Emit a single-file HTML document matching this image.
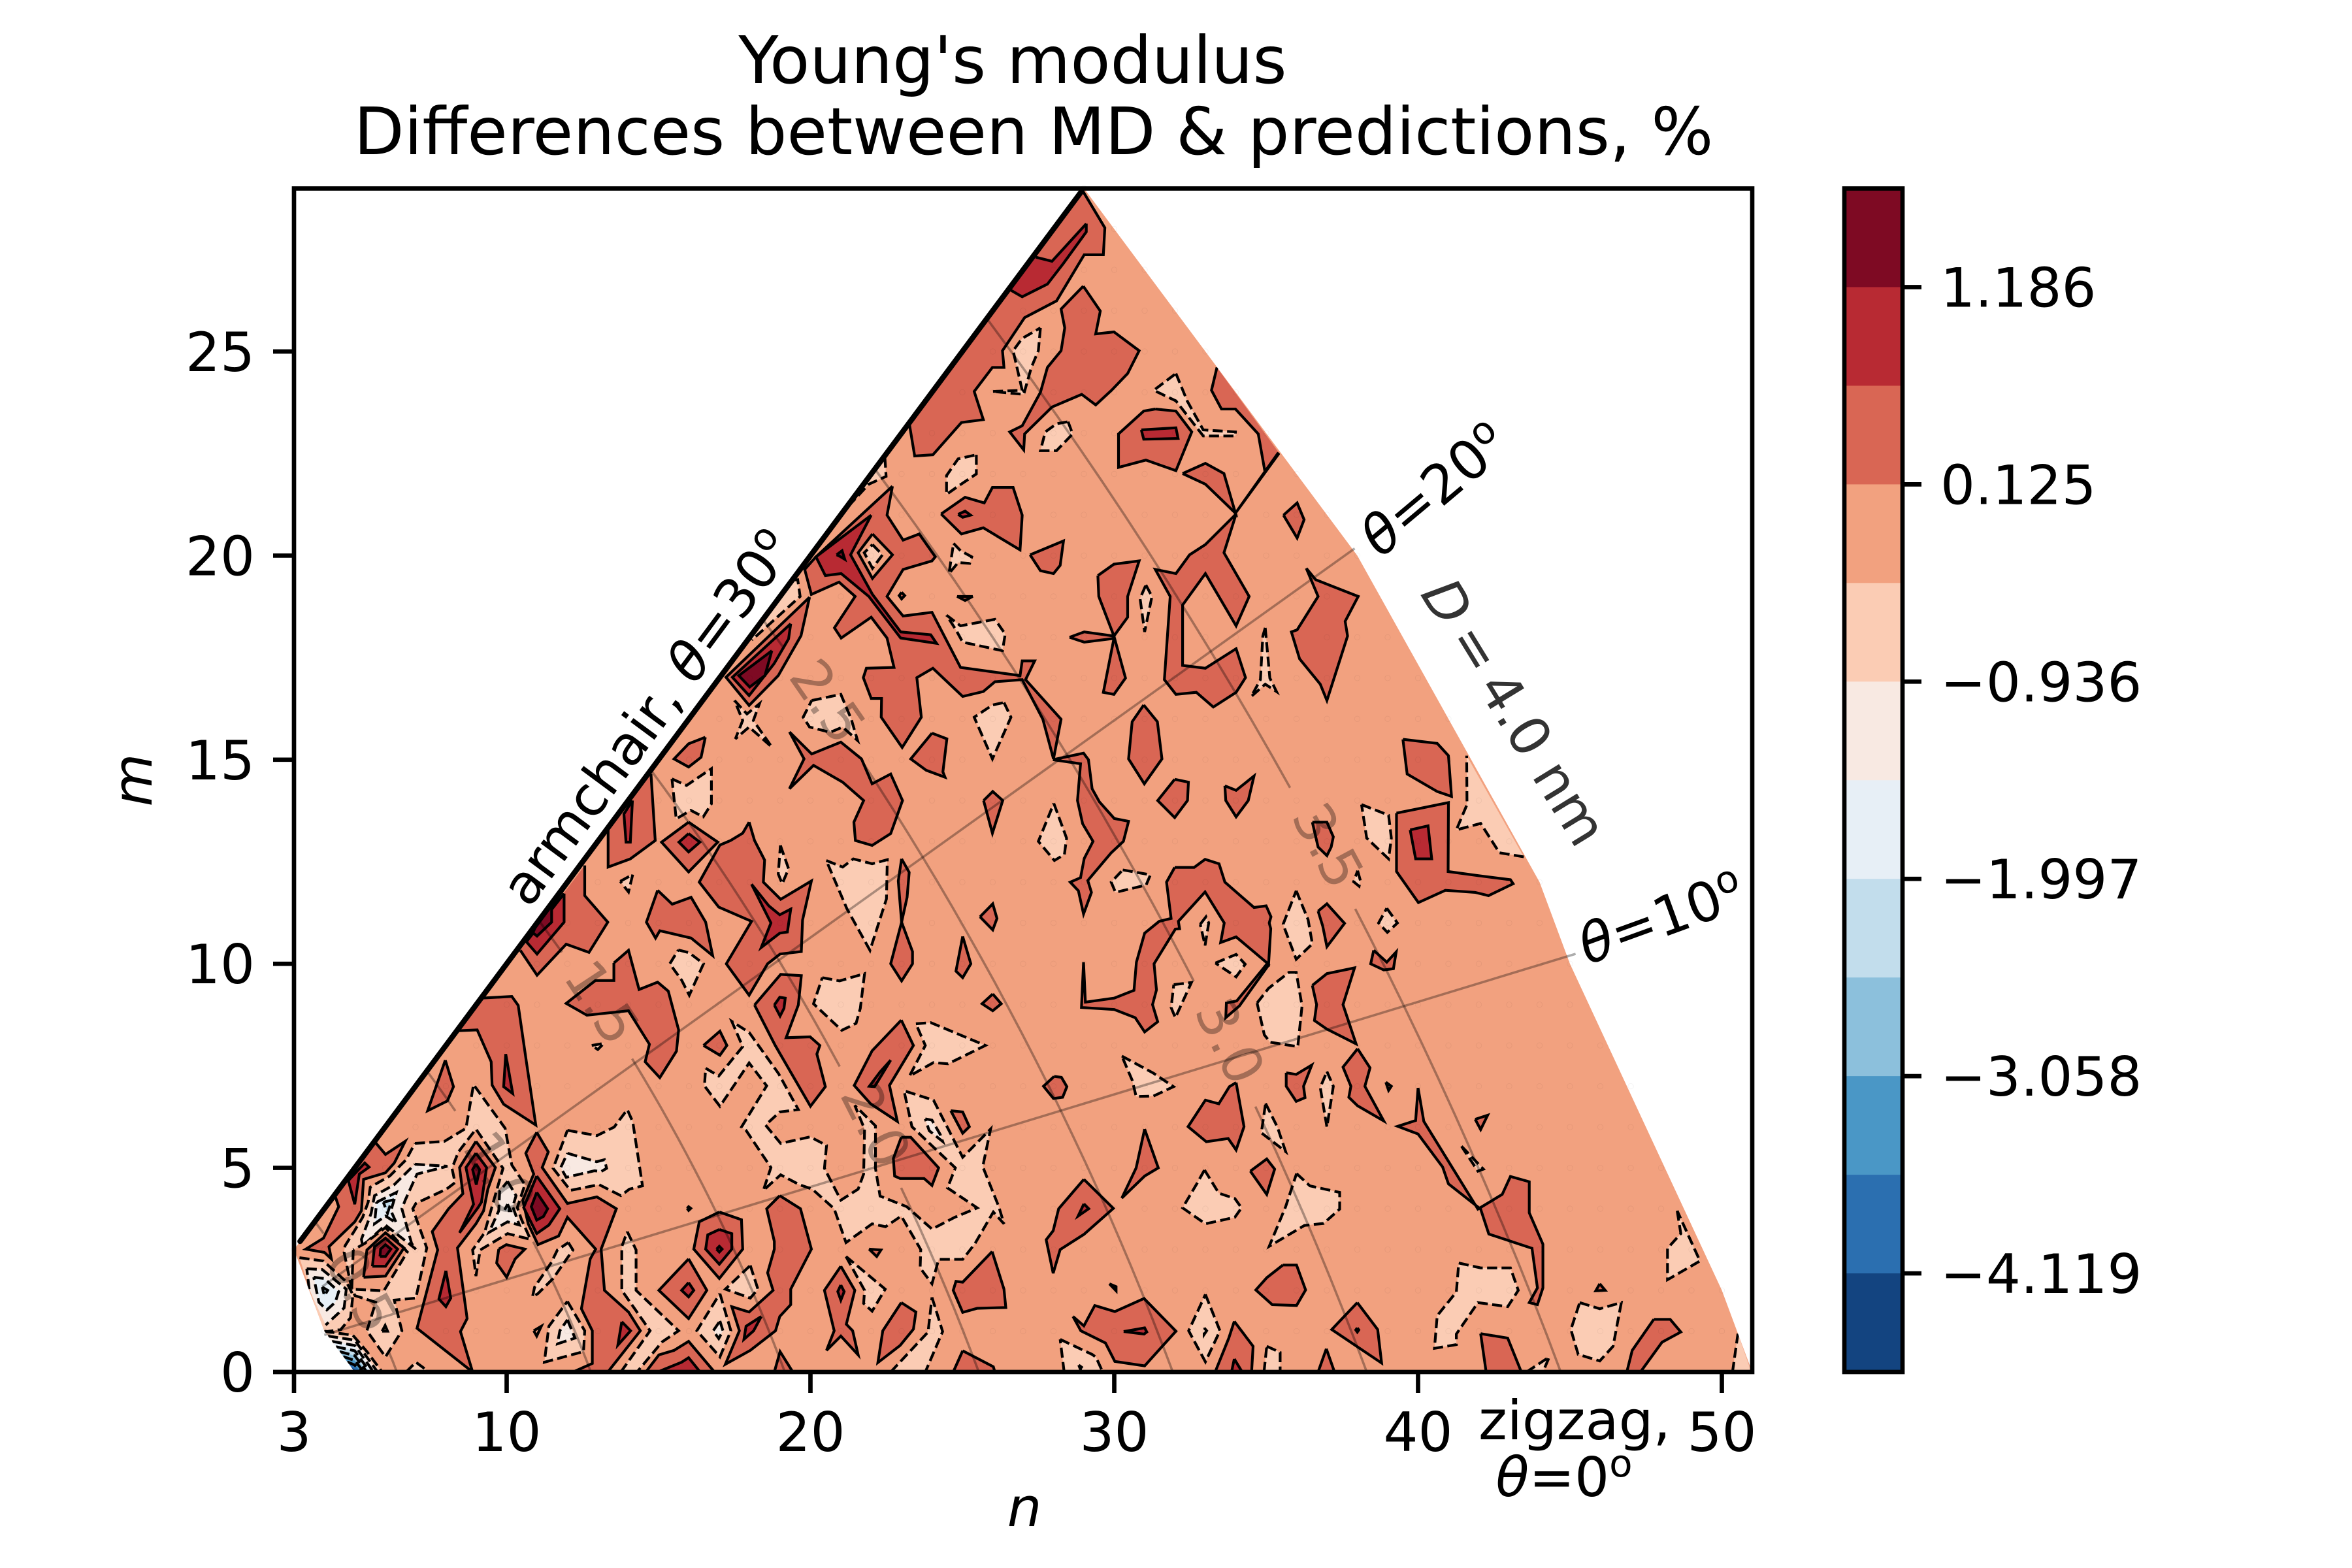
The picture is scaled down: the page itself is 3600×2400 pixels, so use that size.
<!DOCTYPE html>
<html><head><meta charset="utf-8"><title>Young's modulus differences</title>
<style>
html,body{margin:0;padding:0;background:#fff}
svg{display:block}
text{font-family:"DejaVu Sans","Liberation Sans",sans-serif;font-size:83.33px;fill:#000}
</style></head><body>
<svg id="chart" xmlns="http://www.w3.org/2000/svg" width="3600" height="2400" viewBox="0 0 3600 2400">
<defs><clipPath id="wedge-clip"><polygon id="wedge-clip-poly" points=""/></clipPath>
<clipPath id="axes-clip"><rect x="450" y="288" width="2232" height="1812"/></clipPath></defs>
<g id="plot"></g>
<rect x="450" y="288.5" width="2232" height="1811.5" fill="none" stroke="#000" stroke-width="6.67"/>
<g id="axes"></g>
<g id="cbar"></g>
<text x="1550" y="127" text-anchor="middle" style="font-size:100px">Young's modulus</text>
<text x="1582" y="236" text-anchor="middle" style="font-size:100px">Differences between MD &amp; predictions, %</text>
<text x="1568" y="2336" text-anchor="middle" font-style="italic">n</text>
<text transform="translate(232,1194) rotate(-90)" text-anchor="middle" font-style="italic">m</text>
<text transform="translate(991,1098) rotate(-53.5)" text-anchor="middle" dy="29">armchair, <tspan font-style="italic">θ</tspan>=30<tspan dy="-30" style="font-size:58px">o</tspan></text>
<text transform="translate(2195,749) rotate(-40)" text-anchor="middle" dy="29"><tspan font-style="italic">θ</tspan>=20<tspan dy="-30" style="font-size:58px">o</tspan></text>
<text transform="translate(2543,1405) rotate(-20)" text-anchor="middle" dy="29"><tspan font-style="italic">θ</tspan>=10<tspan dy="-30" style="font-size:58px">o</tspan></text>
<text transform="translate(2318,1090) rotate(58.5)" text-anchor="middle" dy="29" style="fill:#333"><tspan font-style="italic">D</tspan><tspan dx="-10"> = </tspan><tspan dx="-10">4.0 nm</tspan></text>
<text x="2410" y="2203" text-anchor="middle">zigzag,</text>
<text x="2394" y="2290" text-anchor="middle"><tspan font-style="italic">θ</tspan>=0<tspan dy="-30" style="font-size:58px">o</tspan></text>
</svg>
<script>
const xTicks=[3,10,20,30,40,50];
const yTicks=[0,5,10,15,20,25];
const cbarColors=["#7e0a23","#b82a33","#d96654","#f2a17f","#fbccb4","#f8e9e2","#e7eff6","#c2ddec","#8cc0dc","#4a97c6","#2b6fb0","#134480"];
const cbarLabels=["1.186","0.125","−0.936","−1.997","−3.058","−4.119"];
const hullPoints=[3,3,29,29,38,20,44,12,45,10,50,2,51,0,5,0,4,1];
const thetaDeg=[10,20];
const thetaDiamStart=[0.354,0.414];
const thetaDiamEnd=[4.0,4.0];
const diameters=[0.5,1.0,1.5,2.0,2.5,3.0,3.5];
const diameterLabels=["0.5","1.0","1.5","2.0","2.5","3.0","3.5"];
const diameterGaps=[[27.4,3.8],[25.7,12.5],[27.7,20.3],[14.7,8.8],[28.8,23.9],[12.5,8.45],[16.1,12.7]];

const lo1Regions=[
[6.98,5.6,7.95,5.65,8.66,5.97,8.91,7.04,9.95,5.97,10.17,5.07,10.6,4.59,10.35,4.03,10.49,3.73,10.78,3.25,10.03,3.39,9.13,2.99,8.99,2.35,8.88,2.99,9.27,3.41,9.56,4.16,9.88,4.99,8.99,5.95,8.41,5.39,8.2,4.99,8.3,4.64,8.02,4.48,7.01,4.13,6.91,4,7.37,3.04,7.01,1.81,6.3,1.76,6.55,1.01,6.01,0.37,5.4,1.01,5.69,1.71,5.01,1.87,4.9,2.03,4.65,2.93,4.68,3.09,5,3.47,5.26,3.79,5.44,4.16,5.51,4.53,6.15,4.8,6.69,5.2],
[3.18,2.8,3.97,2.72,4.72,2.21,4.94,1.89,4.86,1.33,4.54,1.04,3.97,0.98],
[4,1,4.94,0.9,5.4,0.5,5.9,0,4.97,0],
[6.69,0,7.01,0.24,7.45,0],
[12,5.92,12.97,5.79,13.54,6,13.97,6.43,14.15,6.13,14.47,4.56,14.04,4.48,13.76,4.32,13.04,4.59,12.1,4.45,11.53,4.99],
[12.03,3.17,12.18,2.99,11.53,2.29,11.03,1.92,10.85,1.84,10.92,2.08,11.46,2.67,11.67,2.99],
[12,1.73,12.57,1.01,12.53,0.5,11.24,0.24,11.39,1.12],
[13.97,3.44,14.26,2.99,14.26,2,15.66,1.01,15.12,0.74,14.29,0,13.76,0,14.72,1.01,13.79,2,13.79,3.07],
[17.02,1.92,17.38,1.01,17.02,0.37,16.26,1.01],
[18.02,2.61,18.27,2.03,18.02,1.81,17.2,2.03],
[16.55,7.44,16.98,7.25,17.77,7.97,17.41,8.59,17.98,8.32,18.95,7.31,19.6,6.43,18.99,6.37,18.52,6.05,19.02,5.6,19.99,5.76,20.53,5.55,20.46,4.99,21,4.21,21.57,4.48,21.75,4.85,21.78,5.95,21.46,6.53,22.14,6.03,22.14,4.99,22.29,4.31,23.17,4.05,24,3.5,24.75,3.79,25.49,4.02,24.51,4.51,24.77,5,23.34,6.01,23.08,6.89,24.05,6.66,25.01,5.26,25.93,5.95,25.67,5.03,26.2,4.05,26.37,3.63,26.02,3.92,25.41,3.14,25.01,2.76,24.22,2.76,24,2.16,23.61,2.55,23.63,3,22.99,3.82,22.47,3.56,22.03,3.63,21.17,3.17,20.78,4,20.06,4.48,19.63,4.59,19.02,4.83,18.45,4.45,18.7,5.01,17.88,5.92,17.73,6,18.56,7.01,17.98,7.57,17.02,6.51,16.51,7.01],
[23.47,8.53,23.96,8.56,25.76,8,24.53,7.55,24.05,7.58,23.26,7.25,23.78,8],
[21.17,2.83,22.46,2.03,22.03,1.49,21.75,1.68,21.78,2],
[24,1.83,24.35,0.99,23.78,0,22.64,0,23.87,0.98],
[28.22,0.8,29.27,0.43,29.4,0.36,29.62,0,28.35,0],
[33,1.9,33.48,1.01,33,0.25,32.45,1.01],
[32.97,4.95,33.44,4.38,33.97,4.25,34.19,4.02,33.97,3.79,33,3.63,32.25,4.02,32.74,4.64],
[30.25,7.74,31.29,7.32,31.95,6.99,31.29,6.76,30.72,6.75,30.59,7.15],
[36,4.86,36.44,4.56,37.42,4.4,37.42,3.99,36.89,3.64,36.26,3.59,35.1,3.08,35.64,4.05],
[35.02,0.63,35.46,0.48,35.46,0,34.93,0],
[41.34,2.67,42.06,2.55,43.04,2.55,43.3,2,42.95,1.6,41.97,1.7,41.26,0.93,41.26,0.67,40.54,0.58,40.63,1.38,41.26,1.96],
[45.32,1.7,45.98,1.55,46.69,1.7,46.42,0.63,45.98,0.27,45.27,0.43,45.03,1.04],
[48.53,3.95,48.65,3.39,48.21,3.03,48.21,2.26,49.28,2.72],
[50.53,0.94,50.97,0,50.35,0],
[43.57,0,44.32,0.37,44.11,0],
[41.43,5.53,42.15,4.97,41.97,4.92],
[38.14,13.9,39.03,13.64,39.12,13.08,39.03,12.57,38.31,13.08],
[41.6,15.1,43.48,12.62,42.68,12.72,42.06,13.44,41.26,13.28,41.61,13.9],
[35.99,11.79,36.38,11.08,36.52,10.49,35.99,10.11,35.61,10.86,35.56,10.97],
[34.7,9.04,35.08,9.4,35.75,9.79,35.99,9.79,36.18,8.97,36.04,7.97,35.13,8.08,34.94,8.26],
[31.96,9.49,32.54,9.54,32.01,8.68,31.87,8.93],
[33.33,10.02,34.01,10.23,34.31,9.99,34.01,9.68],
[32.83,10.97,33.02,11.15,33.11,11,32.99,10.45],
[30.28,12.3,31.19,12.18,31.05,11.93,30.04,11.75,29.9,12],
[28.01,13.93,28.43,13.08,28.36,12.68,28.03,12.53,27.5,13],
[34.98,6.58,35.37,6,35.64,5.4,34.84,5.86],
[37,7.36,37.21,7,37,6,36.78,6.97],
[38.97,11.36,39.32,11,38.99,10.77,38.7,11],
[38.01,12.28,38.1,12.04,38.06,11.9,37.88,12.01],
[28.18,28.08,28.63,28.23,28.1,27.67,27.73,27.62],
[26.07,26,25.95,25.4,25.1,24.3,24.5,24.4],
[27.57,25.58,27.5,25.02,27.27,24.61,27.02,23.95,25.99,24.02,26.97,24.05,26.67,25.02,26.97,25.32],
[28.48,23.28,28.63,22.98,28.1,22.57,27.57,22.57,27.73,23.03,28.1,23.23],
[25.46,22.47,25.46,22,24.86,21.7,24.48,21.5,24.48,21.96,24.86,22.37],
[32.03,24.46,32.4,23.79,32.93,23.08,33.99,23.03,33.99,22.93,32.93,22.93,32.03,23.79,31.3,24.05],
[34.97,18.23,35.12,17,35.34,16.67,34.97,16.85,34.51,16.55,34.81,16.96,34.89,18.03],
[31.04,19.28,31.24,19,31,18.13,30.85,18.95],
[24.71,20.3,24.94,20.12,25.31,19.97,25.24,19.81,24.86,19.83,24.56,19.56],
[24.48,18.54,24.94,18.28,26.07,18.44,26.41,18.08,26.32,17.67,25.01,17.88,24.79,18.18],
[26.37,16.4,26.6,16.04,25.99,15.02,25.39,16.04,25.99,16.34],
[22.45,22.4,22.49,21.94,21.92,21.75,21.16,21.14,20.7,20.7],
[19.4,19.4,19.58,19.41,19.66,19,18.07,17.93,18,18],
[17.5,16.45,17.91,16.12,18.32,16.37,18.12,15.96,18.73,15.31,17.98,15.8,17.53,15.51,17.77,15.96],
[20.04,16.45,21,16.6,21.34,16,21.55,15.47,21.06,15.8,20.65,15.67,19.97,15.8,19.76,16.04],
[15.44,14.53,15.92,14.37,16.74,14.78,16.74,13.92,16.47,13.6,16.06,13.76,15.58,13.55],
[19.01,12.9,19.28,12.33,19.07,11.96,18.94,12.2],
[20.52,12.53,21.06,12.37,21.41,12.57,22.03,12.45,22.53,12.55,22.5,11.59,21.96,10.33,21.2,11.35],
[15.65,10.34,16.01,10.27,16.48,10,16.01,9.23,15.76,9.6,15.37,10],
[20.39,9.66,20.96,9.58,21.78,9.76,21.64,8.91,21.5,8.54,21.03,8.37,20.1,9.02],
[13.74,12.02,14.15,12.19,14.01,11.76],
[12.8,8,13.2,8.05,13,7.9]
];
const lo2Regions=[
[6.98,5.09,8.05,5.04,7.05,4.85,6.66,4.21,6.55,4,6.87,3.15,7.01,3.01,6.01,3.6,5.26,3.09,5.22,3.25,5.54,3.89,5.65,4.32,6.3,4.59],
[10.03,4.67,10.31,4.32,10.2,4.05,10.42,3.6,10.03,3.68,9.42,3.42,9.74,3.95,9.77,4.43],
[3.42,2.53,3.93,2.51,4.72,2.03,4.65,1.57,4.04,1.15,3.5,2.03],
[4.12,0.88,5,0.78,5.75,0,5,0],
[12,5.36,12.96,5.15,13.22,5.2,13.29,4.99,13.11,4.91,12.89,4.93,11.96,4.77,11.78,5.01],
[12,1.28,12.25,0.83,11.67,0.69,11.75,1.01],
[17.02,1.25,17.12,1.01,16.98,0.82,16.8,1.01],
[23.78,6.2,24,6.17,24.27,5.82,24.35,5.65,23.91,5.91,23.83,6.08],
[28.83,0.17,28.96,0.1,28.92,0],
[32.96,1.08,33.04,1.01,32.96,0.92]
];
const lo3Regions=[
[5.72,4.16,6.37,4.4,6.19,3.95,6.37,3.65,6.01,3.82,5.65,3.63],
[10.03,4.11,10.13,3.95,9.92,3.95],
[3.65,2.32,4,2.29,4.47,1.97,4.36,1.71,4.08,1.52,3.82,1.71],
[4.25,0.75,5,0.65,5.62,0,5,0]
];
const lo4Regions=[[5.94,4.16,6.22,4.21,6.08,3.89],[3.93,2.08,4.11,2,4,1.87],[4.38,0.62,5,0.52,5.5,0,5,0]];
const lo5Regions=[[4.5,0.5,5,0.4,5.4,0,5,0]];
const lo6Regions=[[4.62,0.38,5,0.28,5.3,0,5,0]];
const lo7Regions=[[4.75,0.25,5,0.17,5.2,0,5,0]];
const lo8Regions=[[4.87,0.13,5.1,0,5,0]];
const baseDashedRegions=[
[4.95,2.99,4.9,2.03,5.96,1.99,6.73,2.94,6.01,3.54,5.33,3.15]
];
const baseSolidRegions=[
[22.04,20.53,22.7,20.02,22.04,19.44,21.57,20.07],
[5.9,1,6,1.14,6.08,1],
[10.89,1.01,11.14,1.12,10.99,0.88]
];
const innerLo1Regions=[[22.04,20.27,22.37,20.02,22.04,19.69,21.77,20.07]];
const hi1Regions=[
[5.65,5.65,6.01,5.33,6.66,5.65,6.3,5.12,6.01,4.88,5.29,4.72,5.22,3.95,5,3.68,4.15,3.07,4.23,2.77,4,2.93,3.39,3.01,3.97,3.28,4.47,4.05,4.36,4.3,4.36,4.36],
[5.29,2.32,5.4,2.99,6.01,3.41,6.62,3.04,6.01,2.35],
[8.99,5.65,9.63,5.01,9.38,4.48,9.24,3.95,8.99,3.63,8.38,3.04,8.7,1.31,8.48,0.99,8.88,0,7.05,1.07,7.73,2.99,7.55,3.44,8.09,4,8.56,4.37,8.45,5.01],
[10.99,5.87,10.63,5.36,10.89,4.85,10.53,4.21,10.71,3.63,11.03,3.12,11.71,3.33,12,3.79,12.93,3.01,12.75,2.77,12.46,1.55,12.82,1.01,12.82,0.21,12.18,0,13.33,0,14.4,1.01,14.01,1.47,13.22,2,13.11,3.01,13.61,4,12.97,4.29,12,4.13,11.17,5.01,11.37,5.39],
[9.74,3.01,9.99,3.12,10.6,3.01,10.28,2.77,10,2.32,9.67,2.67],
[7.98,7.64,8.25,6.99,8.05,6.64,7.4,6.4],
[9.17,9.16,10.17,9.2,10.38,8.98,10.65,7.6,10.96,6.05,9.9,6.56,9.52,7.03,9.49,7.6,9.03,8.38,8.39,8.36],
[12.57,12.41,12.57,11.67,13.33,11.02,12.71,10.28,11.96,10.48,11,9.72,10.45,10.33],
[15.99,2.77,16.59,2,15.99,1.31,15.01,2],
[17,3.92,17.73,3.73,17.77,3.01,17,2.29,16.16,3.01,16.34,3.68],
[15.94,4.01,15.99,4.05,16.06,4.01,15.99,3.96],
[18.99,4.32,19.67,4,20.03,3.01,19.35,2.03,19.35,1.65,18.99,1.36,18.85,1.01,18.02,0.53,17.2,0.19,17.66,1.01,17.41,1.6,17.98,1.47,18.77,2,18.59,2.43,18.81,3.01,18.81,3.2,18.56,4],
[14.58,0,15.01,0.42,15.51,0.53,15.99,0.75,16.84,0],
[18.81,0,19,0.5,19.42,0],
[21,2.59,21.46,2,21.18,1.17,21.39,1.01,21.57,0.42,21,0.88,20.53,0.53,20.78,1.01,20.46,2],
[21.93,3.01,22.32,2.99,22.18,2.83],
[22.99,1.7,23.47,1.47,23.39,1.05,22.95,0.65,22.22,0.23,22.38,1.01],
[22.99,5.75,23.3,5.75,24.22,5,24,4.57,23.74,4.74,22.95,4.74,22.77,4.8,22.73,5.23],
[24.62,6.4,25.01,6.37,25.23,6.01,25.01,5.85],
[22.99,8.62,23.39,8,22.6,7.02,22.86,6.14,21.98,6.57,21.44,7.02,22.03,7.87],
[31,5.95,31.45,5,31,4.8,30.25,4.26,30.72,5],
[29,4.72,29.97,4.01,29,3.37,28.22,3,27.99,2.42,27.76,3.24,27.99,3.46,28.17,4],
[28.02,7.24,28.26,7.22,28.44,6.99,28.3,6.73,28,6.7,27.67,7],
[26,9.26,26.28,9.02,26,8.85,25.65,9.02],
[25.98,2.95,26.37,2.03,26.43,1.58,25.49,1.56,25.01,1.46,24.7,2,24.79,2.22,25.01,2.2],
[25.01,0.52,26.02,0.13,26.07,0,24.7,0],
[28.64,1.36,29,1.13,29.36,1.63,30.02,1.48,30.98,1.8,32.03,1,31,0.15,30.02,0.26,29.71,0.71,28.9,1.01],
[29.84,2.16,30.06,2.09,30.06,1.99],
[34.01,7.09,34.27,6.01,34.01,5.44,33.75,5.72,33.03,5.64,32.43,6.01,33,6.66,33.44,6.57,33.79,6.99],
[34.48,4.92,35.02,5.22,35.28,4.97,35.02,4.35],
[35.55,2.62,36,2.62,36.3,2.01,36,1.63,35.2,1.65,34.66,2.01,35.02,2.31],
[38,1.7,38.67,1.04,38.8,0.22,37.16,1.04],
[36.98,0.57,37.25,0,36.71,0],
[33.95,1.24,34.57,0.63,34.52,0,33.32,0,33.77,0.83],
[40,6.96,40.19,6.14,41.97,3.99,42.77,4.35,43.04,4.79,43.66,4.66,43.66,3.9,44.11,3.13,44.11,2.06,43.93,1.65,43.66,1.7,43.93,2.06,43.75,3.03,42.33,3.38,42.06,3.99,41,4.61,40.81,5.02,40,5.83,39.33,6.02,39.92,6.16],
[41.88,6.19,42.29,6.29,42.06,5.94],
[42.06,0.94,42.95,0.83,43.4,0,42.24,0],
[47.76,1.29,48.3,1.29,48.65,0.98,48.03,0.73,47.32,0,46.87,0,47.05,0.53],
[45.98,2.16,46.16,2,45.85,1.99],
[38.94,7.1,39.12,7,39.03,6.9],
[39.29,13.69,41,13.95,40.99,12.26,41.97,12.16,43.04,12.06,43.13,11.96,42.32,11.67,41.88,11.75,40.9,11.8,40.01,11.5,39.29,12.26],
[39.5,15.5,40.63,15.4,41,15.1,41.1,14.1,40.63,14.22,39.64,14.65],
[30.97,16.34,31.42,15.93,31.57,15.02,30.99,14.41,30.47,15.02,30.59,15.93],
[31.99,14.52,32.44,14.45,32.41,14,31.99,13.58,31.43,14],
[33.64,14.36,34.01,14.25,34.6,14.6,34.41,14,34.01,13.6,33.67,14],
[27.98,15,28.99,15.16,29.15,15,29.27,14.29,29.51,13.97,30,13.56,30.47,13.49,30.3,13,29.9,12.72,29.13,12.04,29.25,11.75,28.99,11.22,28.82,11.79,28.55,12,28.89,12.11,29.01,12.58,29.3,13,28.96,13.43,28.79,14,28.89,14.9],
[31.99,12.36,32.63,12.36,32.99,12.56,33.45,12.45,33.64,12,34.6,11.38,35,11.42,35.16,11.15,35.1,11,35.15,10.86,35.08,9.99,34.01,10.66,33.5,10.52,33.62,11,32.99,11.76,32.11,11.04,32.15,10.86,32.01,10.85,31.31,10,31.39,9.36,31.26,9,31.43,8.58,31,8.33,30.69,8.68,30,8.88,28.92,8.93,28.99,10.04,29.05,9.06,30,9.16,30.65,9.35,30.73,10.04,31,10.75,31.48,11.04,31.87,11.11,31.72,12],
[35.03,10,34.03,9.09,33.69,9.04,33.67,8.68,34.12,8.97,35.08,9.97],
[36.71,11.29,37,11.47,37.58,10.99,37,10.42,36.86,10.93],
[36.52,13.47,37,13.47,37.21,13.11,37.14,12.86,37,12.65,36.71,12.86],
[38.54,10.33,38.97,10.04,39.28,10.29,39.19,9.88,38.87,9.85,38.44,10],
[36.52,9.47,37,9.76,37.91,9.9,37.53,9,37.96,8.04,37,8.4,36.59,8.61,36.66,9],
[38.01,7.92,38.42,7.45,38.25,7,38.87,6.15,38.01,6.52,37.72,6.73,37.79,7,37.53,7.47],
[35.66,7.33,35.99,7.29,36.5,7.52,36.23,7,36.28,6.72,35.99,6.63,35.66,7],
[25.58,11.15,26,11.47,26.14,11.11,26,10.83],
[25.7,14,26,14.22,26.33,14,25.99,13.2],
[28.95,28.95,29.69,28.03,29.64,27.37,29.01,27.37,28.1,26.24,27.05,25.83,26.32,25.02,26.37,24.61,25.99,24.61,25.39,24.02,25.69,23.33,24.97,23.26,24.03,22.47,23.43,22.44,23.25,23.25],
[28.98,26.6,29.54,25.99,29.39,25.43,29.99,25.48,30.82,25.02,30.44,24.46,29.91,24.05,29.39,23.69,28.93,23.95,27.95,23.64,27.05,22.98,27.02,22.59,26.56,23.03,26.97,23.18,27.57,24,27.8,24.61,28.25,25.02,28.37,25.58,28.25,26.04],
[31.35,23.59,32.03,23.54,32.55,23.03,32.03,22.08,31.04,22.34,30.14,22.16,30.14,22.98,30.97,23.54],
[33.38,24.61,35.42,22.52,34.96,22.06,34.74,22.98,33.99,23.59,33.53,23.59,33.2,24.05],
[32.25,22.01,33,22.26,33.61,22.01,33.99,21.04,33,21.75],
[33.99,21.04,35.42,22.5,35.4,22.52],
[34.01,21.02,33.61,20.07,34.44,19,34.01,18.28,33,19.56,32.25,18.79,32.25,17.31,33,17.24,34.01,17.72,34.32,17.01,34.01,16.65,33.26,16.29,32.7,16.65,32.03,16.6,31.65,16.96,31.84,19,31.35,19.66,32.03,19.56,32.48,20.02,33,20.27],
[36.32,19.69,36.63,19.41,38.03,19,37.6,18.39,37.68,18.03,37,16.45,36.78,16.85,36.1,17.47,35.83,18.13,36.02,18.18,36.71,19],
[35.57,20.99,36.02,21.29,36.25,20.88,36.02,20.43],
[28.53,18,29.01,18.13,29.99,18.03,30.37,17,29.99,16.6,29.64,16.65,29.99,17.97,29.01,17.88],
[29.46,19.51,29.99,19.79,30.82,19.87,30.44,19,30.44,18.49,29.99,18.03,29.49,19],
[27.23,20.02,28.33,20.36,28.22,19.76,28,19.56,27.57,19.63],
[24.3,21.02,25.09,21.43,25.72,21.29,25.99,21.67,26.67,21.67,26.97,20.99,26.9,20.14,25.69,20.68,24.97,20.53],
[22.7,21.7,22.52,20.99,23.05,20.38,23.58,20.53,24.11,19.97,24,19.87,23.05,19.66,22.52,19,23.05,18.52,24,18.61,24.94,17.26,26.9,17.06,26.97,17.42,27.38,17.42,27.08,16.96,28.25,15.99,28,15.02,27.65,15.99,26.97,16.96,26.07,16.91,25.69,16.67,25.01,16.55,24.03,17.24,23.5,17.01,23.65,16.04,23.02,15.3,22.33,16.04,22.34,16.5,22,16.5,21.74,17.01,21.84,17.24,22.75,17.26,22.52,17.98,22,18.49,21.01,17.98,20.79,18.23,21.47,19,20.94,19.35,20.03,19.05,19.81,19.66,20.18,19.97],
[25.09,19,25.34,19,25.09,18.9,24.83,19],
[23,19.1,23.1,19.02,23,18.94,22.92,19.02],
[19.97,18.98,19.69,18.04,18.94,17.06,17.98,16.33,17.22,17.02],
[19.31,15.68,20.04,15.14,21,15.43,21.68,15.02,22.03,14.41,22.64,14.65,23.03,14,22.64,13.19,22.03,12.9,21.48,13.02,21.43,13.47,21.75,14,21.06,14.45,20.1,14.86,19.31,14.29,19.79,15.02],
[24,15.65,24.49,15.51,24.36,14.7,24.43,14.57,23.81,14.74,23.3,15.02],
[16.54,15.55,16.4,15.06,15.99,14.82,15.51,15.02,15.99,15.39],
[14.75,14.65,14.89,13.02,14.07,12.57,13.34,12.37,13.34,13.3],
[15.99,13.47,16.95,12.98,15.99,12.25,15.1,12.98],
[17.98,13.47,18.16,13.02,18.49,12.54,18.45,12,19.02,11.58,20.03,12.03,19.74,11.07,19.7,10.3,19,10.24,18.59,10,17.98,9.23,17.23,10,18.06,11.04,16.98,11.39,16.34,12,17.02,12.91,17.37,13.02,17.77,13.2],
[14.97,11.8,15.45,11.46,16.07,11.63,16.55,11.02,16.78,10.2,16.07,10.63,15.04,10.81,14.9,10.63,14.6,11.02],
[13.53,10.02,14.01,10.33,14.36,9.37,14.97,9.55,15.32,9.33,15.66,8.38,15.59,7.86,15.04,7.21,14.56,7.6,14.7,8.03,14.01,8.85,12.64,8.74,11.96,9.03,12.92,9.59,13.53,9.59],
[16.48,8,17.02,8.35,17.25,8,17.02,7.76],
[18.16,8.99,19.02,9.74,19.7,9.71,19.6,8.99,19.2,8.19,19.99,8.21,20.31,8,20.21,7.79,20.49,6.99,20,6.51,18.84,8],
[23,12.57,23.25,12.24,23.18,11.63,23,11.02,23.36,10.3,23.36,10,23,9.58,22.64,10,23,11.02,22.89,12.03],
[25.01,10.67,25.28,10,25.01,9.66,24.79,9.82]
];
const hi2Regions=[
[4.79,4.69,5.33,5.12,5.47,5.02,5.15,4.85,5,4.11],
[5.58,2.59,5.65,3.07,6.01,3.28,6.41,3.01,6.01,2.59],
[8.99,5.36,9.34,5.01,9.17,4.16,9.06,4.03,8.45,3.41,8.91,4.11,8.66,5.01],
[8,2.48,8.16,1.81,8,1.6,7.77,1.79],
[10.99,4.8,11.75,4,11.39,3.6,10.99,3.39,10.56,4.03],
[13.79,1.23,14.08,1.01,13.66,0.66],
[9.97,7.79,10.2,6.82,9.9,6.99],
[11.89,11.72,11.89,11.02,11,10.24,10.65,10.54],
[15.99,2.19,16.16,2,15.99,1.84,15.76,2],
[17,3.49,17.41,3.39,17.41,3.01,17,2.64,16.55,3.01,16.62,3.36],
[18.38,1.36,18.13,1.01,17.81,0.8,17.88,1.12],
[14.97,0,15.76,0.24,15.99,0.35,16.37,0],
[21,2.13,21.11,1.97,21,1.76,20.9,1.97],
[22.64,7.64,22.11,6.99,21.94,7,22.29,7.35],
[29,4.12,29.16,4,28.81,3.82],
[30.31,0.99,31,1.08,31.07,0.98,30.98,0.93],
[33.95,0.32,34.21,0,33.86,0],
[38,1.08,38.05,1.03,38,0.98,37.95,1.03],
[39.74,13.28,40.33,13.38,40.45,12.57,39.92,12.57],
[30.89,23.08,32.03,23.13,32.1,22.87,30.97,22.85],
[29.08,28.13,29.08,27.93,28.33,27.16,27.8,26.65,26.97,26.34,26.6,26.5,27.42,27.31,27.95,27.21],
[24.86,21.01,25.09,21.09,25.27,20.99,25.01,20.94],
[22,20.99,21.32,20.02,22.04,19.05,22.97,18.13,23.96,18.06,24.15,17.85,22.97,17.98,21.92,19,21.01,19.56,20.49,19.51,20.18,19.97],
[19.35,18.33,19.28,17.96,18.8,17.35,17.98,16.57,17.43,17.02],
[14.14,14,14.07,12.98,13.93,12.98,13.86,13.67],
[15.99,13.19,16.36,12.98,15.99,12.74,15.67,12.98],
[18.06,11.95,18.63,11.42,18.99,11.2,19.35,11.34,19.24,10.78,18.99,10.75,18.38,10.4,18.7,11],
[18.81,8.99,18.99,9.18,19.17,9.16,19.13,8.91,19,8.72]
];
const hi3Regions=[
[5.83,2.83,5.85,3.01,6.01,3.12,6.19,3.01,6.01,2.83],
[8.99,5.1,9.11,4.96,9,4.59,8.88,4.96],
[10.99,4.4,11.35,4,11.21,3.81,10.99,3.72,10.81,4.05],
[11.48,11.72,11.48,11.02,11,10.68,10.86,10.76],
[16.91,3.01,17,3.08,17.09,3.01,17,2.94],
[20.86,20.02,21.04,20.12,21.13,19.91,21,19.97],
[18.73,17.67,18.5,17.06,18,16.78,17.64,17.06]
];

const colorBase="#f2a17f";
const layerOrder=[
 {name:"lo1",regions:lo1Regions,color:"#fbccb4",dash:true},
 {name:"lo2",regions:lo2Regions,color:"#f8e9e2",dash:true},
 {name:"lo3",regions:lo3Regions,color:"#e7eff6",dash:true},
 {name:"lo4",regions:lo4Regions,color:"#c2ddec",dash:true},
 {name:"lo5",regions:lo5Regions,color:"#8cc0dc",dash:true},
 {name:"lo6",regions:lo6Regions,color:"#4a97c6",dash:true},
 {name:"lo7",regions:lo7Regions,color:"#2b6fb0",dash:true},
 {name:"lo8",regions:lo8Regions,color:"#134480",dash:true},
 {name:"base-ring",regions:baseDashedRegions,color:colorBase,dash:true},
 {name:"hi1",regions:hi1Regions,color:"#d96654",dash:false},
 {name:"base-island",regions:baseSolidRegions,color:colorBase,dash:false},
 {name:"lo1-island",regions:innerLo1Regions,color:"#fbccb4",dash:true},
 {name:"hi2",regions:hi2Regions,color:"#b82a33",dash:false},
 {name:"hi3",regions:hi3Regions,color:"#7e0a23",dash:false}
];

const NS="http://www.w3.org/2000/svg";
const xScale=n=>450+(n-3)*46.5;
const yScale=m=>2100-m*62.48;
const tube=d=>d*Math.PI/0.246;
function chiral(d,thetaDegrees){
  const t=thetaDegrees*Math.PI/180,R=tube(d);
  return [R*(Math.cos(t)-Math.sin(t)/Math.sqrt(3)),R*2*Math.sin(t)/Math.sqrt(3)];
}
function pairs(flat){const o=[];for(let i=0;i<flat.length;i+=2)o.push([flat[i],flat[i+1]]);return o;}
const hull=pairs(hullPoints);
function distSeg(p,a,b){
  const dx=b[0]-a[0],dy=b[1]-a[1];
  let t=((p[0]-a[0])*dx+(p[1]-a[1])*dy)/(dx*dx+dy*dy);
  t=Math.max(0,Math.min(1,t));
  return Math.hypot(p[0]-a[0]-t*dx,p[1]-a[1]-t*dy);
}
function alongHull(p,q){
  for(let i=0;i<hull.length;i++){
    const a=hull[i],b=hull[(i+1)%hull.length];
    if(distSeg(p,a,b)<0.12&&distSeg(q,a,b)<0.12)return true;
  }
  return false;
}
function svgEl(tag,parent){const e=document.createElementNS(NS,tag);parent.appendChild(e);return e;}
const plot=document.getElementById('plot');
const hullAttr=hull.map(p=>xScale(p[0]).toFixed(1)+','+yScale(p[1]).toFixed(1)).join(' ');
document.getElementById('wedge-clip-poly').setAttribute('points',hullAttr);

const baseFill=svgEl('polygon',plot);
baseFill.setAttribute('points',hullAttr);
baseFill.setAttribute('fill',colorBase);



const contourGroup=svgEl('g',plot);
contourGroup.setAttribute('clip-path','url(#wedge-clip)');


layerOrder.forEach(layer=>{
  layer.regions.forEach(flat=>{
    const pts=pairs(flat);
    const fillPath=svgEl('path',contourGroup);
    fillPath.setAttribute('d','M'+pts.map(p=>xScale(p[0]).toFixed(1)+' '+yScale(p[1]).toFixed(1)).join('L')+'Z');
    fillPath.setAttribute('fill',layer.color);
    
    
    let d='',pen=false;
    for(let i=0;i<pts.length;i++){
      const a=pts[i],b=pts[(i+1)%pts.length];
      if(alongHull(a,b)){pen=false;continue;}
      if(!pen){d+='M'+xScale(a[0]).toFixed(1)+' '+yScale(a[1]).toFixed(1);pen=true;}
      d+='L'+xScale(b[0]).toFixed(1)+' '+yScale(b[1]).toFixed(1);
    }
    const line=svgEl('path',contourGroup);
    line.setAttribute('d',d);
    line.setAttribute('fill','none');
    line.setAttribute('stroke','#000');
    line.setAttribute('stroke-width','4.17');
    line.setAttribute('stroke-linejoin','miter');
    line.setAttribute('stroke-miterlimit','4');
    if(layer.dash)line.setAttribute('stroke-dasharray','15.4 6.7');
    
    
  });
});

const gridGroup=svgEl('g',plot);


for(let n=3;n<=51;n++){for(let m=1;m<=n&&m<=29;m++){
  const r2=n*n+n*m+m*m;
  if(r2<21||Math.sqrt(r2)>tube(4.0))continue;
  const c=svgEl('circle',gridGroup);
  c.setAttribute('cx',xScale(n));
  c.setAttribute('cy',yScale(m));
  c.setAttribute('r','4.2');
  c.setAttribute('fill','none');
  c.setAttribute('stroke','#000');
  c.setAttribute('stroke-opacity','0.05');
  c.setAttribute('stroke-width','0.9');
  
  
}}

const guideGroup=svgEl('g',plot);
guideGroup.setAttribute('clip-path','url(#axes-clip)');


function guide(points,name){
  const l=svgEl('polyline',guideGroup);
  l.setAttribute('points',points.map(p=>xScale(p[0]).toFixed(1)+','+yScale(p[1]).toFixed(1)).join(' '));
  l.setAttribute('fill','none');
  l.setAttribute('stroke','#000');
  l.setAttribute('stroke-opacity','0.32');
  l.setAttribute('stroke-width','3.6');
  
  
}
thetaDeg.forEach((th,i)=>{guide([chiral(thetaDiamStart[i],th),chiral(thetaDiamEnd[i],th)],'theta-line-'+th);});
diameters.forEach((d,i)=>{
  const gap=diameterGaps[i],a=[],b=[];
  for(let t=30;t>gap[0];t-=1)a.push(chiral(d,t));
  a.push(chiral(d,gap[0]));
  b.push(chiral(d,gap[1]));
  for(let t=Math.floor(gap[1]);t>=0;t-=1)b.push(chiral(d,t));
  guide(a,'diameter-line-'+diameterLabels[i]);
  guide(b,'diameter-line-'+diameterLabels[i]);
  const p=chiral(d,gap[0]),q=chiral(d,gap[1]);
  const x1=xScale(p[0]),y1=yScale(p[1]),x2=xScale(q[0]),y2=yScale(q[1]);
  const label=svgEl('text',guideGroup);
  label.setAttribute('transform','translate('+((x1+x2)/2).toFixed(1)+','+((y1+y2)/2).toFixed(1)+') rotate('+(Math.atan2(y2-y1,x2-x1)*180/Math.PI).toFixed(1)+')');
  label.setAttribute('text-anchor','middle');
  label.setAttribute('dy','20');
  label.setAttribute('style','fill:#000;fill-opacity:0.32');
  label.textContent=diameterLabels[i];
  
  
});

const armchair=svgEl('line',plot);
armchair.setAttribute('x1',xScale(3.2));
armchair.setAttribute('y1',yScale(3.2));
armchair.setAttribute('x2',xScale(28.9));
armchair.setAttribute('y2',yScale(28.9));
armchair.setAttribute('stroke','#000');
armchair.setAttribute('stroke-width','8.3');
armchair.setAttribute('stroke-linecap','round');



const axes=document.getElementById('axes');
function tick(x1,y1,x2,y2,name){
  const t=svgEl('line',axes);
  t.setAttribute('x1',x1);t.setAttribute('y1',y1);t.setAttribute('x2',x2);t.setAttribute('y2',y2);
  t.setAttribute('stroke','#000');t.setAttribute('stroke-width','6.67');
  
  
}
function label(parent,x,y,anchor,txt,name){
  const t=svgEl('text',parent);
  t.setAttribute('x',x);t.setAttribute('y',y);t.setAttribute('text-anchor',anchor);
  t.textContent=txt;
  
  
}
xTicks.forEach(v=>{
  tick(xScale(v),2100,xScale(v),2132,'x-tick-'+v);
  label(axes,xScale(v),2221,'middle',String(v),'x-tick-label-'+v);
});
yTicks.forEach(v=>{
  tick(450,yScale(v),418,yScale(v),'y-tick-'+v);
  label(axes,390,yScale(v)+30,'end',String(v),'y-tick-label-'+v);
});

const cbar=document.getElementById('cbar');
const cbTop=288.5,cbBottom=2100,cbLeft=2823,cbRight=2912;
const bandH=(cbBottom-cbTop)/cbarColors.length;
cbarColors.forEach((c,i)=>{
  const r=svgEl('rect',cbar);
  r.setAttribute('x',cbLeft);r.setAttribute('y',cbTop+i*bandH);
  r.setAttribute('width',cbRight-cbLeft);r.setAttribute('height',bandH+0.5);
  r.setAttribute('fill',c);
  
  
});
const frame=svgEl('rect',cbar);
frame.setAttribute('x',cbLeft);frame.setAttribute('y',cbTop);
frame.setAttribute('width',cbRight-cbLeft);frame.setAttribute('height',cbBottom-cbTop);
frame.setAttribute('fill','none');frame.setAttribute('stroke','#000');frame.setAttribute('stroke-width','6.67');


cbarLabels.forEach((s,i)=>{
  const y=cbTop+(2*i+1)*bandH;
  const t=svgEl('line',cbar);
  t.setAttribute('x1',cbRight);t.setAttribute('y1',y);t.setAttribute('x2',cbRight+29);t.setAttribute('y2',y);
  t.setAttribute('stroke','#000');t.setAttribute('stroke-width','6.67');
  
  
  label(cbar,2970,y+30,'start',s,'colorbar-tick-label');
});
</script>
</body></html>
